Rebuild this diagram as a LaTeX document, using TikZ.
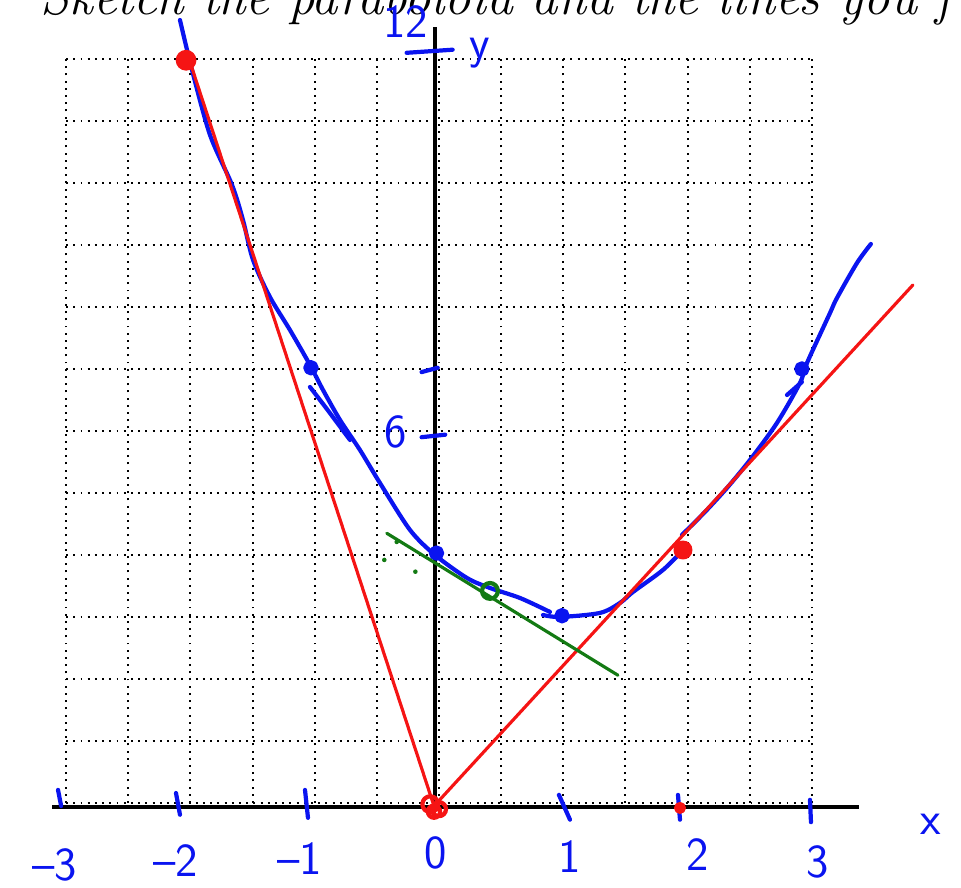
\documentclass[tikz,border=0pt]{standalone}
\usepackage{tikz}

\begin{document}
\begin{tikzpicture}[x=2.486cm,y=1.24cm,
  griglia/.style={black,line width=1.1pt,dash pattern=on 1.1pt off 3pt},
  asse/.style={black,line width=2.2pt},
  pennaBlu/.style={color=inkBlu,line width=2.4pt,line cap=round,line join=round},
  pennaRossa/.style={color=inkRosso,line width=1.8pt,line cap=round,line join=round},
  pennaVerde/.style={color=inkVerde,line width=1.8pt,line cap=round,line join=round},
  etichetta/.style={text=inkBlu,font=\sffamily\fontsize{27}{30}\selectfont,inner sep=0pt},
  titolo/.style={font=\fontsize{30}{36}\selectfont\itshape,inner sep=0pt}]
  \definecolor{inkBlu}{HTML}{0A14F0}
  \definecolor{inkRosso}{HTML}{F51414}
  \definecolor{inkVerde}{HTML}{137A13}
  \useasboundingbox (-3.532,-1.371) rectangle (4.200,12.952);
  % Titolo tagliato dal bordo superiore.
  \node[titolo,anchor=base west] (titolo) at (-3.21,12.71)
    {Sketch the paraboloid and the lines you f};
  % Griglia punteggiata: mezze unita in x, unita in y.
  \foreach \i in {0,...,12}{
    \pgfmathsetmacro{\x}{-3+0.5*\i}
    \draw[griglia] (\x,0) -- (\x,12);
    \draw[griglia] (-3,\i) -- (3,\i);
  }
  % Assi leggermente spostati rispetto alla griglia.
  \draw[asse] (-3.113,-0.065) -- (3.379,-0.065);
  \draw[asse] (-0.032,-0.08) -- (-0.032,12.516);
  % Tacche e numeri scritti a mano.
  \foreach \n/\a/\b/\c/\d/\lx/\ly in {-3/-3.065/0.21/-3.04/-0.05/-3.09/-1.0,
      -2/-2.116/0.16/-2.084/-0.19/-2.12/-0.93,
      -1/-1.078/0.21/-1.054/-0.24/-1.12/-0.9,
      1/0.965/0.13/1.054/-0.27/1.05/-0.87,
      2/1.923/0.13/1.939/-0.27/2.08/-0.84,
      3/2.985/0.05/2.993/-0.31/3.05/-0.95}{
    \draw[pennaBlu] (\a,\b) -- (\c,\d);
    \node[etichetta] (et\n) at (\lx,\ly) {\ifnum\n<0 --\the\numexpr-\n\relax\else\n\fi};
  }
  \node[etichetta] (et0) at (-0.03,-0.81) {0};
  \node[etichetta] (etx) at (3.96,-0.35) {x};
  \draw[pennaBlu] (-0.26,12.1) -- (0.11,12.15);
  \draw[pennaBlu] (-0.14,6.95) -- (-0.01,7.02);
  \draw[pennaBlu] (-0.14,5.9) -- (0.05,5.94);
  \node[etichetta] (et12) at (-0.27,12.6) {12};
  \node[etichetta] (ety) at (0.33,12.1) {y};
  \node[etichetta] (et6) at (-0.35,5.98) {6};
  % Parabola tracciata a mano in tre tratti.
  \draw[pennaBlu] plot[smooth,tension=0.5] coordinates {(-2.084,12.629)
    (-1.987,11.823) (-1.842,10.774) (-1.665,9.968)
    (-1.577,9.403) (-1.496,8.758) (-1.360,8.161) (-1.199,7.629) (-1.038,7.065)
    (-0.933,6.661) (-0.796,6.177) (-0.636,5.694) (-0.475,5.161) (-0.233,4.403)
    (-0.032,4.000) (0.225,3.629) (0.410,3.468) (0.652,3.306) (0.893,3.081)};
  \draw[pennaBlu] plot[smooth,tension=0.5] coordinates {(0.837,3.032) (0.973,3.000)
    (1.295,3.065) (1.456,3.226) (1.561,3.403) (1.802,3.758) (1.963,4.081)};
  \draw[pennaBlu] plot[smooth,tension=0.5] coordinates {(1.955,4.323) (2.140,4.694)
    (2.317,5.081) (2.502,5.532) (2.719,6.129) (2.904,6.774) (2.961,7.097)
    (3.146,7.903) (3.202,8.145) (3.363,8.710) (3.475,9.016)};
  \draw[pennaBlu] (-1.038,6.71) -- (-0.90,6.35) -- (-0.716,5.855);
  \draw[pennaBlu] (2.80,6.58) -- (2.92,6.79);
  % Punti della parabola.
  \foreach \px/\py in {-1.03/7.02,-0.02/4.03,0.99/3.02,2.92/7.0}{
    \filldraw[pennaBlu] (\px,\py) circle[radius=3.2pt];
  }
  % Rette rosse dall'origine.
  \coordinate (A) at (-2.003,11.95);
  \coordinate (O) at (-0.04,-0.05);
  \coordinate (B) at (3.813,8.355);
  \draw[pennaRossa] (A) -- (O) -- (B);
  \filldraw[pennaRossa] (-2.035,11.98) circle[radius=5pt];
  \filldraw[pennaRossa] (1.963,4.08) circle[radius=4.5pt];
  \filldraw[pennaRossa] (1.939,-0.08) circle[radius=2.5pt];
  \draw[pennaRossa,line width=2.4pt] (-0.07,-0.02) circle[radius=4.5pt]
    (0.0,-0.10) circle[radius=4pt] (-0.04,-0.14) circle[radius=3.5pt];
  % Tangente verde.
  \coordinate (G1) at (-0.42,4.35);
  \coordinate (G2) at (1.44,2.06);
  \draw[pennaVerde] (G1) -- (G2);
  \draw[pennaVerde,line width=2.4pt] (0.41,3.42) circle[radius=4.5pt];
  \foreach \px/\py in {-0.44/3.92,-0.34/4.21,-0.19/3.73}{
    \fill[inkVerde] (\px,\py) circle[radius=1.3pt];
  }
\end{tikzpicture}
\end{document}
